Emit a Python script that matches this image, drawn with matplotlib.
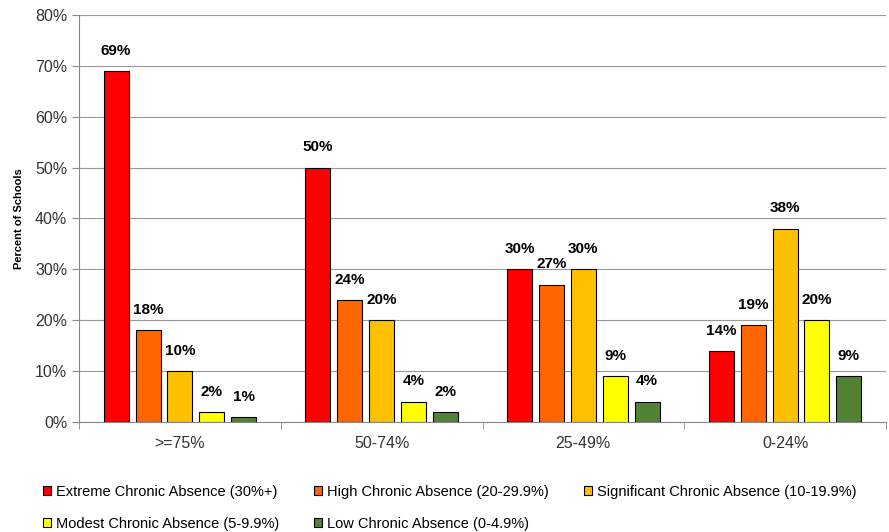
import matplotlib.pyplot as plt
import numpy as np
from matplotlib.patches import Patch

plt.rcParams['font.family'] = ['Liberation Sans', 'DejaVu Sans']

# Данные
groups = ['>=75%', '50-74%', '25-49%', '0-24%']
series = ['Extreme Chronic Absence (30%+)', 'High Chronic Absence (20-29.9%)',
          'Significant Chronic Absence (10-19.9%)', 'Modest Chronic Absence (5-9.9%)',
          'Low Chronic Absence (0-4.9%)']
extreme = [69, 50, 30, 14]
high = [18, 24, 27, 19]
significant = [10, 20, 30, 38]
modest = [2, 4, 9, 20]
low = [1, 2, 4, 9]
colors = ['#FF0000', '#FF6600', '#FFC000', '#FFFF00', '#548235']

values = [extreme, high, significant, modest, low]

fig = plt.figure(figsize=(8.89, 5.32), dpi=100)
ax = fig.add_axes([0.0889, 0.2068, 0.9077, 0.765])

x = np.arange(len(groups))
step = 0.158
width = 0.124
for i, (vals, col) in enumerate(zip(values, colors)):
    pos = x + (i - 2) * step
    ax.bar(pos, vals, width=width, color=col, edgecolor='black', linewidth=0.8, zorder=3)
    for p, v in zip(pos, vals):
        ax.text(p, v + 2.6, f'{v}%', ha='center', va='bottom', fontsize=11,
                fontweight='bold', color='black', zorder=4)

ax.set_xlim(-0.5, len(groups) - 0.5)
ax.set_ylim(0, 80)
ax.set_yticks(range(0, 81, 10))
ax.set_yticklabels([f'{t}%' for t in range(0, 81, 10)], fontsize=11.5, color='#333333')
ax.set_xticks(x)
ax.set_xticklabels(groups, fontsize=11.5, color='#333333')
ax.tick_params(axis='x', length=0, pad=10)
ax.set_xticks(np.arange(-0.5, len(groups)), minor=True)
ax.tick_params(axis='x', which='minor', length=5, color='#888888')
ax.tick_params(axis='y', length=5, color='#888888')
ax.yaxis.grid(True, color='#999999', linewidth=0.8, zorder=0)
for s in ['top', 'right']:
    ax.spines[s].set_visible(False)
ax.spines['left'].set_color('#888888')
ax.spines['bottom'].set_color('#888888')
ax.set_ylabel('Percent of Schools', fontsize=8, fontweight='bold', labelpad=8)

# Порядок для заполнения легенды по строкам
order = [0, 3, 1, 4, 2]
handles = [Patch(facecolor=colors[k], edgecolor='black', linewidth=0.8) for k in order]
labels = [series[k] for k in order]
fig.legend(handles, labels, loc='upper left', bbox_to_anchor=(0.04, 0.102), ncol=3,
           frameon=False, fontsize=10.5, handlelength=0.55, handleheight=0.55,
           handletextpad=0.35, columnspacing=2.4, labelspacing=1.2, borderpad=0)

fig.savefig('out.png', dpi=100)
